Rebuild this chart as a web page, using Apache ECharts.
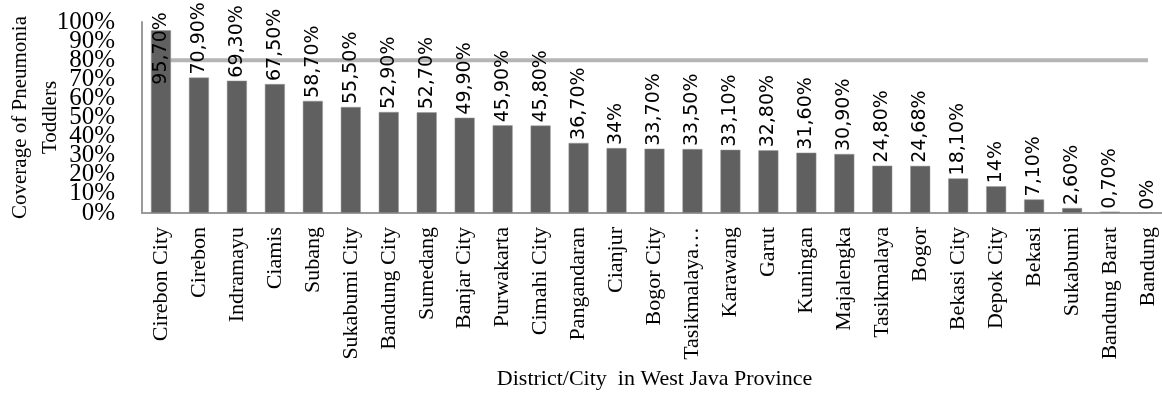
<!DOCTYPE html>
<html><head><meta charset="utf-8">
<script src="https://cdn.jsdelivr.net/npm/echarts@6/dist/echarts.min.js"></script>
<style>html,body{margin:0;padding:0;background:#fff}#c{width:1162px;height:394px}</style>
</head><body><div id="c"></div>
<script>
const categories = ["Cirebon City","Cirebon","Indramayu","Ciamis","Subang","Sukabumi City","Bandung City","Sumedang","Banjar City","Purwakarta","Cimahi City","Pangandaran","Cianjur","Bogor City","Tasikmalaya…","Karawang","Garut","Kuningan","Majalengka","Tasikmalaya","Bogor","Bekasi City","Depok City","Bekasi","Sukabumi","Bandung Barat","Bandung"];
const coverage = [95.7,70.9,69.3,67.5,58.7,55.5,52.9,52.7,49.9,45.9,45.8,36.7,34,33.7,33.5,33.1,32.8,31.6,30.9,24.8,24.68,18.1,14,7.1,2.6,0.7,0];
const target = [80,80,80,80,80,80,80,80,80,80,80,80,80,80,80,80,80,80,80,80,80,80,80,80,80,80,80];
const yTicks = [0,10,20,30,40,50,60,70,80,90,100];

function fmt(v){ return Number.isInteger(v) ? v + '%' : v.toFixed(2).replace('.', ',') + '%'; }

const labelBase = {margin:27, fontFamily:'Liberation Serif', fontSize:25, color:'#000', lineHeight:14,
  padding:[4,0,0,0], showMinLabel:true, showMaxLabel:true, hideOverlap:false};
function yAxisFor(parity, withName){
  const ax = {type:'value', min:yTicks[0], max:yTicks[yTicks.length-1], interval:10, position:'left',
    splitLine:{show:false}, axisLine:{show:withName, onZero:false, lineStyle:{color:'#9a9a9a', width:2}}, axisTick:{show:false},
    axisLabel:Object.assign({}, labelBase, {formatter: v => (yTicks.indexOf(v) % 2 === parity) ? v + '%' : ''})};
  if (withName) Object.assign(ax, {name:'Coverage of Pneumonia\nToddlers', nameLocation:'middle', nameGap:77, nameMoveOverlap:false,
    nameTextStyle:{fontFamily:'Liberation Serif', fontSize:21, color:'#000', lineHeight:30}});
  return ax;
}

const chart = echarts.init(document.getElementById('c'));
const barData = coverage.map((v,i) => i === 0 ? {value:v, label:{position:['50%',-18], align:'right'}} : v);
chart.setOption({
  animation:false,
  grid:{left:142, top:22, width:1025, height:191, containLabel:false, outerBoundsMode:'none'},
  xAxis:{type:'category', data:categories,
    axisLine:{lineStyle:{color:'#9a9a9a', width:2}}, axisTick:{show:false},
    axisLabel:{rotate:90, interval:0, margin:14, fontFamily:'Liberation Serif', fontSize:22, color:'#000'},
    name:'District/City  in West Java Province', nameLocation:'middle', nameGap:155, nameMoveOverlap:false,
    nameTextStyle:{fontFamily:'Liberation Serif', fontSize:22, color:'#000'}},
  yAxis:[yAxisFor(0, true), yAxisFor(1, false)],
  series:[
    {type:'line', data:target, z:1, symbol:'none', lineStyle:{color:'#b5b5b5', width:4}, silent:true},
    {type:'bar', data:barData, z:2, barWidth:20, itemStyle:{color:'#606060', borderColor:'#9a9a9a', borderWidth:0.5},
      label:{show:true, position:'top', distance:3, rotate:90, align:'left', verticalAlign:'middle',
        fontFamily:'DejaVu Sans', fontSize:19, color:'#000', formatter:p => fmt(p.value)}}
  ]
});
</script></body></html>
